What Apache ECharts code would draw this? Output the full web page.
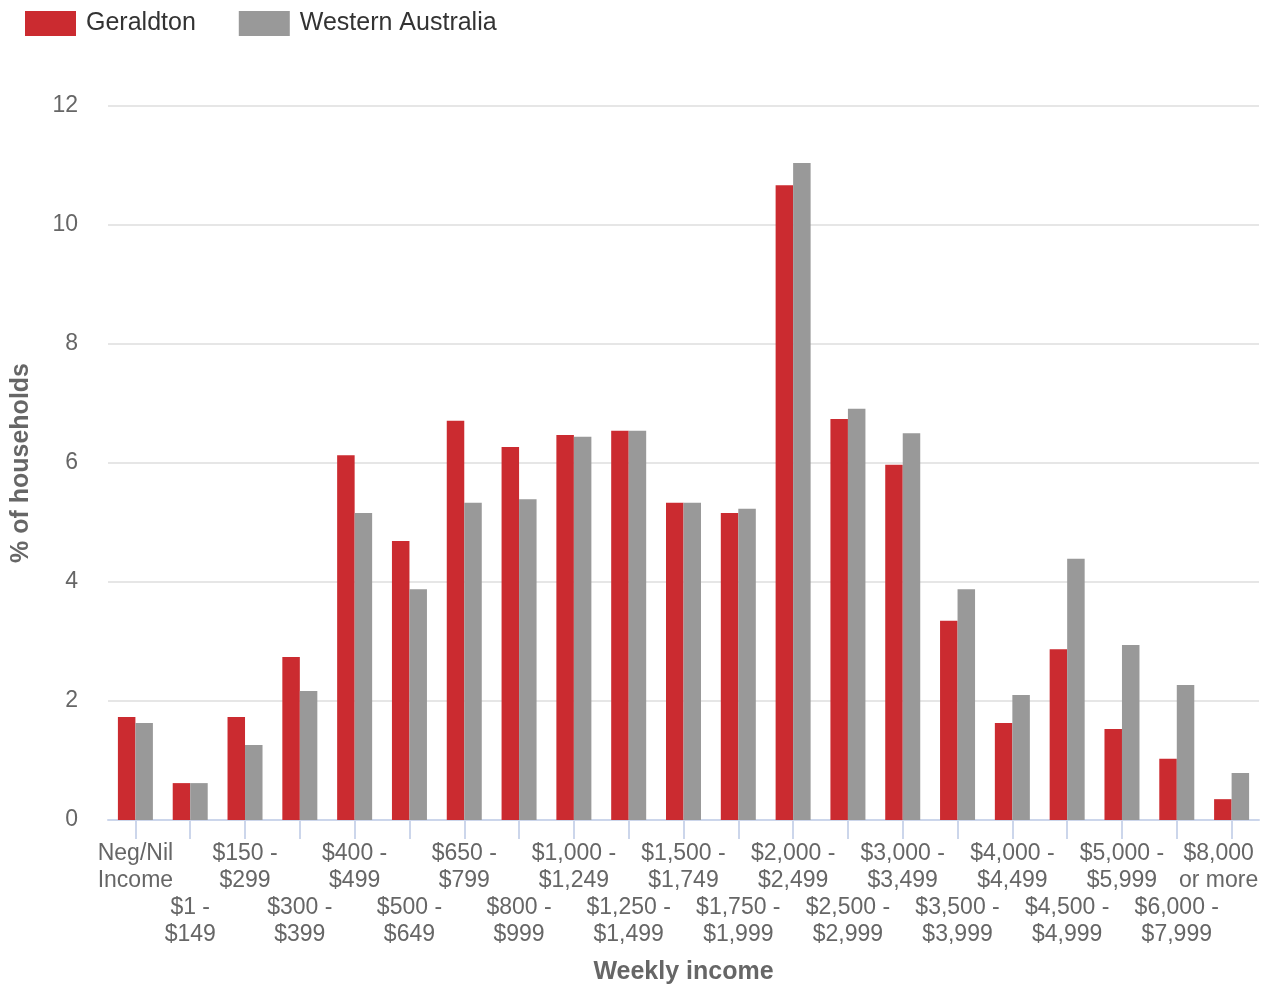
<!DOCTYPE html>
<html>
<head>
<meta charset="utf-8">
<script src="https://cdn.jsdelivr.net/npm/echarts@6/dist/echarts.min.js"></script>
<style>
  html, body { margin: 0; padding: 0; background: #fff; }
  #chart { width: 1265px; height: 987px; }
</style>
</head>
<body>
<div id="chart"></div>
<script>
// categorias de ingreso semanal
const categorias = [
  "Neg/Nil\nIncome", "$1 -\n$149", "$150 -\n$299", "$300 -\n$399", "$400 -\n$499",
  "$500 -\n$649", "$650 -\n$799", "$800 -\n$999", "$1,000 -\n$1,249", "$1,250 -\n$1,499",
  "$1,500 -\n$1,749", "$1,750 -\n$1,999", "$2,000 -\n$2,499", "$2,500 -\n$2,999",
  "$3,000 -\n$3,499", "$3,500 -\n$3,999", "$4,000 -\n$4,499", "$4,500 -\n$4,999",
  "$5,000 -\n$5,999", "$6,000 -\n$7,999", "$8,000\nor more"
];

const geraldton = [
  1.73, 0.62, 1.73, 2.74, 6.13, 4.69, 6.71, 6.27, 6.47, 6.54, 5.33,
  5.16, 10.67, 6.74, 5.97, 3.35, 1.63, 2.87, 1.53, 1.03, 0.35
];

const westernAustralia = [
  1.63, 0.62, 1.26, 2.17, 5.16, 3.88, 5.33, 5.39, 6.44, 6.54, 5.33,
  5.23, 11.04, 6.91, 6.50, 3.88, 2.10, 4.39, 2.94, 2.27, 0.79
];

const yTicks = { min: 0, max: 12, interval: 2 };

// etiqueta del eje x: filas alternas, la ultima se recorre a la izquierda
function etiquetaX(v, i) {
  if (i === categorias.length - 1) {
    return v.split("\n").map((l) => "{ult|" + l + "}").join("\n");
  }
  return i % 2 === 1 ? "\n\n" + v : v;
}

const chart = echarts.init(document.getElementById("chart"));
chart.setOption({
  animation: false,
  textStyle: { fontFamily: "Liberation Sans, Arial, sans-serif" },
  legend: {
    left: 20,
    top: 6,
    itemWidth: 51,
    itemHeight: 25,
    itemGap: 43,
    icon: "rect",
    textStyle: { fontSize: 25, color: "#333", padding: [4, 0, 0, 5] },
    data: ["Geraldton", "Western Australia"]
  },
  grid: { left: 108, right: 6, top: 106, bottom: 167, outerBoundsMode: "none" },
  xAxis: {
    type: "category",
    data: categorias,
    name: "Weekly income",
    nameLocation: "middle",
    nameGap: 140,
    nameTextStyle: { fontSize: 25, fontWeight: "bold", color: "#666" },
    axisLine: { show: true, lineStyle: { color: "#ccd6eb", width: 2 } },
    axisTick: { show: true, alignWithLabel: true, length: 19, lineStyle: { color: "#ccd6eb", width: 2 } },
    axisLabel: {
      interval: 0,
      margin: 20,
      fontSize: 23,
      lineHeight: 27,
      color: "#666",
      formatter: etiquetaX,
      rich: {
        ult: { fontSize: 23, lineHeight: 27, color: "#666", padding: [0, 26, 0, 0] }
      }
    }
  },
  yAxis: {
    type: "value",
    min: yTicks.min,
    max: yTicks.max,
    interval: yTicks.interval,
    name: "% of households",
    nameLocation: "middle",
    nameGap: 74,
    nameTextStyle: { fontSize: 25, fontWeight: "bold", color: "#666" },
    axisLabel: { fontSize: 23, color: "#666", margin: 30, padding: [4, 0, 0, 0] },
    splitLine: { lineStyle: { color: "#e6e6e6", width: 2 } }
  },
  series: [
    {
      name: "Geraldton",
      type: "bar",
      data: geraldton,
      barWidth: 17.5,
      barGap: "0%",
      itemStyle: { color: "#cb2b30" }
    },
    {
      name: "Western Australia",
      type: "bar",
      data: westernAustralia,
      barWidth: 17.5,
      barGap: "0%",
      itemStyle: { color: "#999999" }
    }
  ]
});
</script>
</body>
</html>
